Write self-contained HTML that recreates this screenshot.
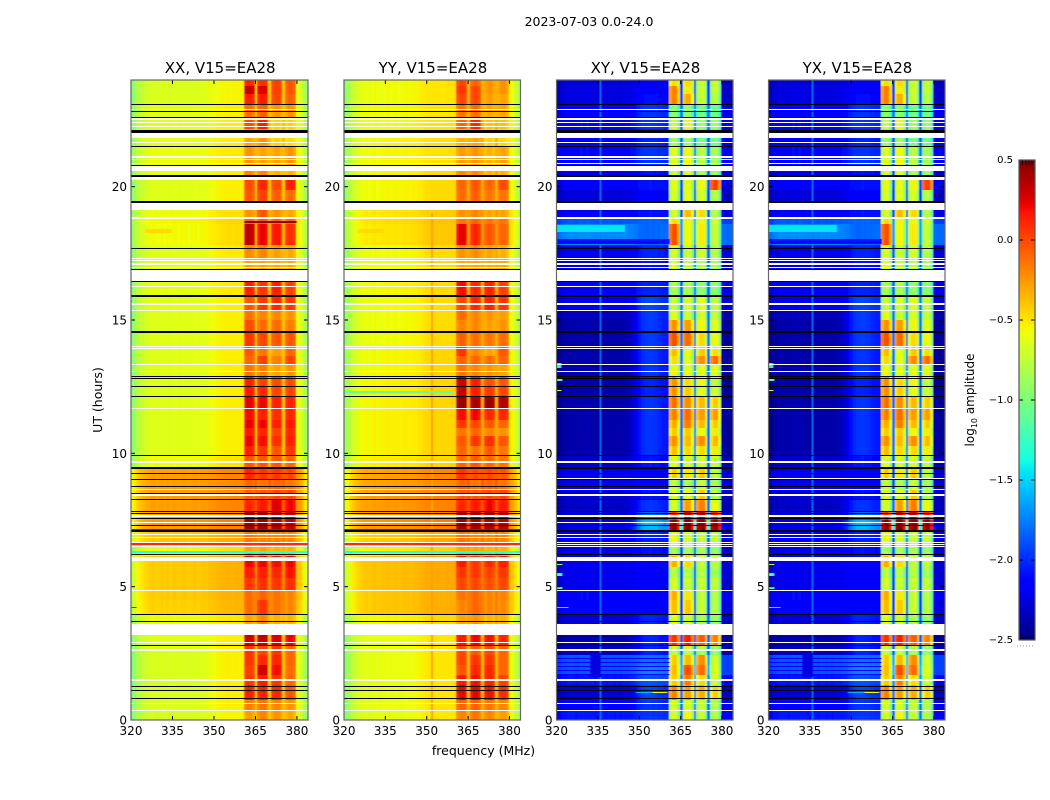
<!DOCTYPE html>
<html lang="en">
<head>
<meta charset="utf-8">
<title>2023-07-03 0.0-24.0</title>
<style>
html,body{margin:0;padding:0;background:#fff}
svg{display:block}
text{font-family:"DejaVu Sans","Liberation Sans",sans-serif;fill:#000}
</style>
</head>
<body>
<svg id="fig" width="1050" height="800" viewBox="0 0 1050 800">
<defs>
<filter id="soft" x="-5%" y="-2%" width="110%" height="104%"><feGaussianBlur stdDeviation="0.55 0.15"/></filter>
</defs>
<text x="589" y="26" text-anchor="middle" font-size="12.5">2023-07-03 0.0-24.0</text>
<text x="483.5" y="755" text-anchor="middle" font-size="12.5">frequency (MHz)</text>
<text transform="translate(102,400) rotate(-90)" text-anchor="middle" font-size="12.5">UT (hours)</text>
<text transform="translate(974,400) rotate(-90)" text-anchor="middle" font-size="12">log<tspan font-size="8" dy="3">10</tspan><tspan dy="-3"> amplitude</tspan></text>
</svg>
<script>
const svgNS = 'http://www.w3.org/2000/svg';

// ---- data ----
const panelTitles = ['XX, V15=EA28', 'YY, V15=EA28', 'XY, V15=EA28', 'YX, V15=EA28'];
const freqTicks = [320, 335, 350, 365, 380];
const utTicks = [0, 5, 10, 15, 20];
const colorTicks = [-2.5, -2.0, -1.5, -1.0, -0.5, 0.0, 0.5];
const colorTickLabels = ['\u22122.5', '\u22122.0', '\u22121.5', '\u22121.0', '\u22120.5', '0.0', '0.5'];

// frequency channels (MHz)
const channels = [320,321,322,323,324,325,326,327,328,329,330,331,332,333,334,335,336,337,338,339,340,341,342,343,344,345,346,347,348,349,350,351,352,353,354,355,356,357,358,359,360,361,362,363,364,365,366,367,368,369,370,371,372,373,374,375,376,377,378,379,380,381,382,383];
const spectralWindows = [[361,364],[366,369],[371,374],[376,379]];
const gapChannels = [365,370,375];

// spectral offsets of the out-of-window background
const xxShape = [-.3,-.22,-.15,-.09,-.05,-.02,0,.02,.03,.01,.02,.04,.02,.03,.01,.03,.04,.02,.03,.04,.03,.02,.03,.04,.02,.03,.04,.03,.05,.04,.04,.05,.05,.06,.06,.07,.07,.07,.08,.08,.08,0,0,0,0,0,0,0,0,0,0,0,0,0,0,0,0,0,0,0,.06,.02,-.08,-.2];
const yyShape = [-.34,-.28,-.2,-.14,-.09,-.05,-.03,-.01,.01,-.01,.01,.03,0,.01,.02,.02,.03,.02,.03,.03,.02,.03,.04,.04,.03,.04,.04,.05,.05,.06,.06,.05,.05,.05,.05,.05,.05,.06,.06,.07,.07,0,0,0,0,0,0,0,0,0,0,0,0,0,0,0,0,0,0,0,.04,0,-.1,-.22];
const xyShape = [-.05,-.05,0,.02,.03,.04,.03,.02,.04,.05,.03,.05,.04,.03,.02,.03,.03,.03,.02,.04,.03,.02,.03,.02,.04,.03,.02,.03,.02,.03,.02,.03,.02,.02,.03,.02,.03,.02,.03,.02,.03,0,0,0,0,0,0,0,0,0,0,0,0,0,0,0,0,0,0,0,-.02,-.05,-.06,-.05];
const yxShape = xyShape;
// share of the "high side" background level in each channel
const bgMix = [0,0,0,0,0,0,0,0,0,0,0,0,0,0,0,0,0,0,0,0,0,0,0,0,0,.05,.1,.2,.35,.55,.75,.9,1,1,1,1,.95,.9,.85,.8,.8,1,1,1,1,1,1,1,1,1,1,1,1,1,1,1,1,1,1,1,.1,.1,.1,.1];
const coBandShape = [-.04,.02,.02,-.04];
const crossBandShape = [0,.14,.14,-.15];
const gapLift = [.22, .22, .22, .22];

// block boundaries, UT hours, top to bottom
const utEdges = [24,23.775,23.475,23.1,22.575,22.16,21.525,20.81,20.33,19.875,19.425,18.825,18.6,17.81,17.325,16.875,15.9,15.375,15,14.55,14.025,13.65,13.35,12.86,12.525,12.15,11.7,11.25,10.95,10.65,10.275,9.94,9.49,9,8.625,8.25,7.8,7.5,7.05,6.56,6.15,5.74,5.325,4.875,4.5,3.975,3.19,2.81,2.44,2.06,1.69,1.31,.75,.375,0];

// per block: log10 amplitude [bg-low, bg-high, window1..window4]
const xxLevels = [
[-.68,-.62,.1,.08,.02,-.05],[-.68,-.62,.3,.25,.02,-.05],[-.68,-.62,.12,.14,0,-.08],[-.66,-.6,-.12,-.08,-.25,-.25],
[-.66,-.6,-.02,.12,-.45,-.45],[-.64,-.6,-.3,-.25,-.45,-.48],[-.62,-.58,-.25,-.3,-.3,-.25],[-.64,-.6,-.2,-.2,-.35,-.35],
[-.66,-.6,-.02,.1,-.02,.12],[-.66,-.6,-.05,.02,-.08,-.12],[-.62,-.55,-.25,-.05,-.25,-.32],[-.58,-.52,-.1,-.05,-.1,-.1],
[-.6,-.54,.32,.2,.14,.08],[-.66,-.58,-.22,-.2,-.28,-.32],[-.66,-.58,-.3,-.3,-.32,-.32],[-.64,-.58,.12,.05,.12,.02],
[-.66,-.6,-.05,.05,.1,.05],[-.66,-.6,-.15,-.2,-.22,-.25],[-.66,-.6,-.02,-.12,-.12,-.18],[-.66,-.6,.05,0,-.05,-.05],
[-.66,-.6,-.05,-.15,-.28,-.1],[-.66,-.6,-.1,.02,-.18,0],[-.66,-.6,-.15,-.18,-.3,-.25],[-.66,-.6,.12,.02,-.02,-.02],
[-.66,-.6,.15,.1,0,.02],[-.66,-.6,.22,.2,.12,.12],[-.66,-.6,.18,.12,.08,.1],[-.66,-.6,.22,.2,.12,.15],
[-.66,-.6,.15,.1,.02,.1],[-.66,-.6,.2,.18,.08,.12],[-.66,-.6,.12,.05,-.05,.05],[-.62,-.56,-.05,-.05,-.05,-.1],
[-.3,-.26,.1,.05,.05,0],[-.3,-.28,-.1,-.15,-.1,-.15],[-.3,-.28,-.08,-.05,0,0],[-.3,-.26,.1,.15,.25,.2],
[-.3,-.26,.38,.4,.35,.3],[-.28,-.24,.42,.42,.38,.32],[-.42,-.38,-.15,-.2,-.2,-.2],[-.6,-.55,-.3,-.3,-.35,-.35],
[-.44,-.4,.2,.2,.18,.2],[-.44,-.4,.12,.12,.1,.16],[-.44,-.4,.05,.08,.05,.08],[-.44,-.4,-.12,-.1,-.15,-.2],
[-.46,-.42,-.12,.05,-.15,-.2],[-.62,-.58,-.3,-.2,-.35,-.35],[-.66,-.6,.28,.32,.25,.2],[-.68,-.6,.05,0,.05,-.1],
[-.68,-.6,.05,.1,.1,-.1],[-.68,-.6,.02,.28,.18,-.12],[-.7,-.6,.05,.15,.05,-.1],[-.68,-.6,.12,.12,.1,-.05],
[-.68,-.6,-.18,-.15,-.2,-.25],[-.7,-.62,-.28,-.2,-.25,-.32]];
const yyLevels = [
[-.6,-.55,0,-.1,-.25,-.25],[-.6,-.55,.05,0,-.25,-.25],[-.6,-.55,0,0,-.28,-.3],[-.6,-.55,-.15,-.12,-.3,-.3],
[-.6,-.55,-.1,.1,-.4,-.4],[-.58,-.54,-.35,-.3,-.45,-.48],[-.58,-.54,-.28,-.25,-.35,-.3],[-.58,-.52,-.22,-.22,-.35,-.35],
[-.58,-.52,-.1,-.05,-.1,-.02],[-.58,-.52,-.12,-.08,-.15,-.15],[-.52,-.48,-.25,-.2,-.3,-.3],[-.5,-.44,-.15,-.1,-.15,-.15],
[-.52,-.46,.22,.1,-.05,-.1],[-.6,-.52,-.25,-.22,-.3,-.35],[-.6,-.52,-.32,-.3,-.32,-.32],[-.58,-.52,.18,.1,.12,.02],
[-.6,-.52,0,.1,.12,.05],[-.6,-.52,-.12,-.2,-.25,-.28],[-.6,-.52,-.2,-.2,-.28,-.25],[-.6,-.52,-.08,-.12,-.15,-.12],
[-.58,-.5,.05,-.2,-.3,-.05],[-.58,-.5,-.08,-.1,-.12,-.1],[-.58,-.5,-.15,-.2,-.25,-.3],[-.56,-.5,.28,.15,-.02,-.05],
[-.56,-.5,.3,.15,.05,0],[-.56,-.5,.42,.38,.42,.36],[-.56,-.5,.18,.2,.1,.1],[-.56,-.5,.05,0,-.05,-.1],
[-.56,-.5,-.15,-.1,-.2,-.25],[-.56,-.5,-.05,.05,.08,-.05],[-.56,-.5,-.1,-.15,-.05,-.15],[-.54,-.5,-.1,-.05,-.1,-.15],
[-.3,-.25,.05,0,0,-.05],[-.3,-.26,-.1,-.15,-.1,-.15],[-.28,-.24,-.05,-.05,0,0],[-.28,-.24,.1,.15,.2,.15],
[-.26,-.22,.36,.38,.36,.3],[-.26,-.22,.4,.4,.38,.34],[-.42,-.36,-.15,-.2,-.2,-.2],[-.55,-.5,-.3,-.3,-.35,-.35],
[-.4,-.36,.15,.05,.1,.12],[-.4,-.36,.05,.05,.02,.05],[-.4,-.36,0,0,-.02,0],[-.42,-.38,-.15,-.1,-.2,-.2],
[-.42,-.38,-.2,-.1,-.2,-.22],[-.58,-.52,-.3,-.25,-.35,-.35],[-.62,-.55,.15,.2,.18,.1],[-.62,-.55,-.02,-.05,0,-.1],
[-.62,-.55,0,.05,.05,-.1],[-.62,-.55,-.05,.1,.1,-.1],[-.62,-.55,.15,.18,.12,.02],[-.62,-.55,.2,.22,.18,.08],
[-.62,-.55,-.1,-.08,-.15,-.2],[-.64,-.56,-.2,-.15,-.2,-.28]];
const xyLevels = [
[-2.3,-2.2,-.6,-.6,-.85,-.85],[-2.28,-2.15,-.3,-.65,-.85,-.85],[-2.28,-2.12,-.3,-.45,-.85,-.9],[-2.2,-2,-1.05,-1.05,-1.15,-1.15],
[-2.15,-2,-.85,-.7,-1,-1],[-2.2,-2.05,-1,-1,-1.15,-1.15],[-2.15,-2,-.75,-.7,-.9,-.95],[-2.25,-2.1,-.8,-.75,-.95,-1],
[-2.2,-2.1,-.75,-.75,-.7,-.1],[-2.3,-2.15,-.8,-.75,-.8,-.9],[-2.2,-2.1,-.8,-.5,-.6,-.9],[-1.9,-1.85,-.6,-.7,-.7,-.8],
[-1.75,-1.85,-.15,-.7,-.65,-.85],[-2.25,-2.05,-.8,-.85,-.8,-.9],[-2.3,-2.1,-.75,-.85,-.9,-.95],[-2.2,-2.05,-.95,-.95,-1.05,-1.05],
[-2.25,-1.95,-.85,-.8,-.75,-.85],[-2.38,-1.98,-.75,-.85,-.8,-.85],[-2.42,-1.98,-.35,-.4,-.7,-.75],[-2.42,-1.98,-.15,-.25,-.6,-.7],
[-2.42,-2,-.5,-.75,-.55,-.6],[-2.42,-2,-.6,-.75,-.35,-.25],[-2.42,-2,-.7,-.75,-.75,-.75],[-2.42,-2.05,-.35,-.6,-.7,-.85],
[-2.42,-2.05,-.35,-.55,-.75,-.8],[-2.42,-2,-.25,-.35,-.5,-.55],[-2.42,-2,-.3,-.25,-.4,-.4],[-2.42,-2,-.45,-.3,-.5,-.55],
[-2.42,-2,-.55,-.55,-.7,-.65],[-2.42,-2,-.35,-.5,-.35,-.5],[-2.42,-2,-.5,-.6,-.6,-.65],[-2.35,-2.1,-.75,-.8,-.8,-.85],
[-2.25,-2.15,-.55,-.65,-.55,-.85],[-2.25,-2.15,-.85,-.95,-.85,-.95],[-2.3,-2.1,-.75,-.75,-.55,-.9],[-2.35,-2,-.8,-.4,-.3,-.7],
[-2.3,-1.85,0,.2,.2,.05],[-2.25,-1.6,.32,.35,.32,.3],[-2.2,-2.05,-.7,-.8,-.85,-.85],[-2.25,-2.1,-.95,-.95,-.95,-1],
[-2.25,-2.15,-.45,-.6,-.85,-.85],[-2.25,-2.15,-.9,-.9,-.9,-.95],[-2.25,-2.15,-.8,-.85,-.85,-.85],[-2.15,-2.15,-.45,-.65,-.85,-.9],
[-2.2,-2.15,-.5,-.55,-.85,-.9],[-2.3,-2.05,-.75,-.8,-.95,-1],[-2.42,-2.05,-.05,0,-.2,-.3],[-2.38,-2.05,-.85,-.85,-.95,-1],
[-1.9,-1.8,-.55,-.5,-.35,-.8],[-1.9,-1.75,-.5,-.15,-.25,-.75],[-2.1,-1.9,-.55,-.3,-.6,-.8],[-2.3,-1.95,-.3,-.4,-.45,-.55],
[-2.2,-2,-.8,-.8,-.85,-.9],[-2.1,-2,-.8,-.7,-.85,-.9]];
const yxLevels = xyLevels;

// narrow features: [ut-low, ut-high, freq-low, freq-high, log10 amplitude]
const xxSpikes = [[6.28,6.32,320,384,-1.3],[6.58,6.62,320,384,.1],[7.12,7.15,320,384,.25],[4.2,4.24,320,322,.2],[18.65,18.7,361,380,.45],[18.25,18.4,325,335,-.47]];
const yySpikes = [[0,19,351.7,352.1,-.28],[6.28,6.32,320,384,-1.3],[6.58,6.62,320,384,.1],[7.12,7.15,320,384,.25],[12.28,12.32,320,360,-1.1],[18.25,18.4,325,335,-.47]];
const xySpikes = [[0,24,335.6,336,-1.75],[4.2,4.24,320,324,-.3],[1.0,1.04,349,358,-1.6],[1.0,1.04,355,360,-.6],[5.4,5.5,320,322,-1.2],[4.9,5.0,320,322,-1.2],[5.8,5.85,320,322,-.8],[13.2,13.4,320,321.5,-1.3],[12.7,12.8,320,322,-1.2],[12.32,12.38,320,321.5,-.6],[17.85,18.05,320,361,-2.1],[18.3,18.55,320,345,-1.45],[2.3,2.33,320,361,-2.15],[2.15,2.18,320,361,-2.15],[2.0,2.03,320,361,-2.15],[1.85,1.88,320,361,-2.15],[1.7,1.73,320,361,-2.15],[1.6,2.5,332,336,-2.25]];
const yxSpikes = xySpikes;

// flagged (blank) and black-marked time ranges, UT hours
const blankRanges = [[22.875,22.93],[22.5,22.56],[22.38,22.425],[22.24,22.29],[21.825,22.03],[21.64,21.69],[21.09,21.15],[21,21.05],[20.85,20.895],[20.6,20.775],[20.26,20.36],[19.125,19.4],[18.79,18.85],[17.29,17.325],[17.2,17.24],[17.08,17.12],[16.96,17],[16.48,16.875],[16.24,16.29],[15.56,15.65],[15.34,15.375],[13.99,14.04],[13.91,13.96],[13.31,13.36],[13.05,13.1],[11.66,11.71],[9.64,9.71],[8.625,8.67],[8.4,8.46],[7.61,7.67],[7.39,7.44],[6.92,6.97],[6.825,6.86],[6.64,6.675],[6.47,6.52],[5.96,6.12],[4.84,4.88],[3.19,3.6],[2.89,2.93],[2.59,2.65],[1.46,1.53],[.59,.63],[.33,.375]];
const crossBlankRanges = [[9.04,9.09],[6.56,6.61]];
const blackRanges = [[23.07,23.11],[22.79,22.83],[22.57,22.6],[22.03,22.14],[21.47,21.525],[20.78,20.81],[20.36,20.42],[19.4,19.46],[17.67,17.71],[16.88,16.92],[16.44,16.48],[15.88,15.94],[14.52,14.585],[12.86,12.9],[12.8,12.83],[12.5,12.53],[12.12,12.16],[9.91,9.94],[9.43,9.49],[9.25,9.28],[9.01,9.04],[8.73,8.76],[8.49,8.52],[8.26,8.29],[7.81,7.84],[7.74,7.76],[7.55,7.58],[7.29,7.32],[7.06,7.12],[6.2,6.22],[3.95,3.98],[3.67,3.7],[2.77,2.8],[1.25,1.28],[1.1,1.13],[.8,.83]];

// ---- axis functions ----
const panelBoxes = [[131,308],[344,520.5],[556.5,733],[768.5,945]];
const plotTop = 80, plotBottom = 720;
const utMax = 24, freqMin = 320, freqMax = 384;
const cbLeft = 1019, cbRight = 1035, cbTop = 160, cbBottom = 640;
const cMin = -2.5, cMax = 0.5;

function xAxis(p, f) { const b = panelBoxes[p]; return b[0] + (f - freqMin) * (b[1] - b[0]) / (freqMax - freqMin); }
function yAxis(h) { return plotBottom - h * (plotBottom - plotTop) / utMax; }
function cAxis(v) { return cbBottom - (v - cMin) * (cbBottom - cbTop) / (cMax - cMin); }

function seg(x, pts) {
  for (let i = 0; i < pts.length - 1; i++) {
    if (x <= pts[i + 1][0]) {
      const t = (x - pts[i][0]) / (pts[i + 1][0] - pts[i][0]);
      return pts[i][1] + t * (pts[i + 1][1] - pts[i][1]);
    }
  }
  return pts[pts.length - 1][1];
}
function jet(v) {
  const n = Math.max(0, Math.min(1, (v - cMin) / (cMax - cMin)));
  const r = seg(n, [[0,0],[.35,0],[.66,1],[.89,1],[1,.5]]);
  const g = seg(n, [[0,0],[.125,0],[.375,1],[.64,1],[.91,0],[1,0]]);
  const b = seg(n, [[0,.5],[.11,1],[.34,1],[.65,0],[1,0]]);
  return 'rgb(' + Math.round(r * 255) + ',' + Math.round(g * 255) + ',' + Math.round(b * 255) + ')';
}
function make(parent, tag, props) {
  const el = document.createElementNS(svgNS, tag);
  for (const k in props) el.setAttribute(k, props[k]);
  parent.appendChild(el);
  return el;
}

const fig = document.getElementById('fig');
const panelLevels = [xxLevels, yyLevels, xyLevels, yxLevels];
const panelShapes = [xxShape, yyShape, xyShape, yxShape];
const panelSpikes = [xxSpikes, yySpikes, xySpikes, yxSpikes];
const panelNames = ['xx', 'yy', 'xy', 'yx'];

function cellValue(p, row, ci) {
  const f = channels[ci];
  const lv = panelLevels[p][row];
  const cross = p >= 2;
  for (let w = 0; w < spectralWindows.length; w++) {
    const sw = spectralWindows[w];
    if (f >= sw[0] && f <= sw[1]) {
      const shape = cross ? crossBandShape : coBandShape;
      return lv[w + 2] + shape[f - sw[0]];
    }
  }
  const bg = lv[0] * (1 - bgMix[ci]) + lv[1] * bgMix[ci] + panelShapes[p][ci];
  if (gapChannels.indexOf(f) >= 0) return bg + gapLift[p];
  return bg;
}

panelTitles.forEach(function (title, p) {
  const box = panelBoxes[p];
  const panel = make(fig, 'g', {});
  
  

  const clip = make(fig, 'clipPath', { id: 'clip' + p });
  make(clip, 'rect', { x: box[0], y: plotTop, width: box[1] - box[0], height: plotBottom - plotTop });

  const clipped = make(panel, 'g', { 'clip-path': 'url(#clip' + p + ')' });
  
  
  const cells = make(clipped, 'g', { filter: 'url(#soft)', 'shape-rendering': 'crispEdges' });

  for (let r = 0; r < utEdges.length - 1; r++) {
    let y1 = Math.round(yAxis(utEdges[r]));
    let y2 = Math.round(yAxis(utEdges[r + 1]));
    if (r === 0) y1 -= 5;
    if (r === utEdges.length - 2) y2 += 5;
    for (let c = 0; c < channels.length; c++) {
      let x1 = Math.round(xAxis(p, channels[c] - 0.3));
      let x2 = Math.round(xAxis(p, channels[c] + 0.7));
      if (c === 0) x1 = Math.round(box[0]) - 5;
      if (c === channels.length - 1) x2 = Math.round(box[1]) + 5;
      const cell = make(cells, 'rect', { x: x1, y: y1, width: x2 - x1, height: y2 - y1, fill: jet(cellValue(p, r, c)) });
      
      
    }
  }

  panelSpikes[p].forEach(function (s) {
    const y1 = Math.round(yAxis(s[1]));
    const y2 = Math.max(y1 + 1, Math.round(yAxis(s[0])));
    const x1 = Math.round(xAxis(p, s[2]));
    const x2 = Math.max(x1 + 1, Math.round(xAxis(p, s[3])));
    const sp = make(cells, 'rect', { x: x1, y: y1, width: x2 - x1, height: y2 - y1, fill: jet(s[4]) });
    
    
  });

  const blanks = p >= 2 ? blankRanges.concat(crossBlankRanges) : blankRanges;
  const flagGroup = make(clipped, 'g', { 'shape-rendering': 'crispEdges' });
  blanks.forEach(function (b) {
    const y1 = Math.round(yAxis(b[1]));
    const y2 = Math.max(y1 + 1, Math.round(yAxis(b[0])));
    const band = make(flagGroup, 'rect', { x: box[0], y: y1, width: box[1] - box[0], height: y2 - y1, fill: '#fff' });
    
    
  });
  blackRanges.forEach(function (b) {
    const y1 = Math.round(yAxis(b[1]));
    const y2 = Math.max(y1 + 1, Math.round(yAxis(b[0])));
    const band = make(flagGroup, 'rect', { x: box[0], y: y1, width: box[1] - box[0], height: y2 - y1, fill: '#000' });
    
    
  });

  freqTicks.forEach(function (f) {
    const x = xAxis(p, f);
    const t1 = make(panel, 'line', { x1: x, x2: x, y1: plotBottom, y2: plotBottom - 4, stroke: '#000', 'stroke-width': 1 });
    
    
    const t2 = make(panel, 'line', { x1: x, x2: x, y1: plotTop, y2: plotTop + 4, stroke: '#000', 'stroke-width': 1 });
    
    
    const lab = make(panel, 'text', { x: x, y: 735, 'text-anchor': 'middle', 'font-size': 12 });
    lab.textContent = String(f);
    
    
  });
  utTicks.forEach(function (h) {
    const y = yAxis(h);
    const t1 = make(panel, 'line', { x1: box[0], x2: box[0] + 4, y1: y, y2: y, stroke: '#000', 'stroke-width': 1 });
    
    
    const t2 = make(panel, 'line', { x1: box[1], x2: box[1] - 4, y1: y, y2: y, stroke: '#000', 'stroke-width': 1 });
    
    
    const lab = make(panel, 'text', { x: box[0] - 4, y: y + 4.5, 'text-anchor': 'end', 'font-size': 12 });
    lab.textContent = String(h);
    
    
  });

  const frame = make(panel, 'rect', { x: box[0], y: plotTop, width: box[1] - box[0], height: plotBottom - plotTop, fill: 'none', stroke: '#666', 'stroke-width': 1.2 });
  
  

  const head = make(panel, 'text', { x: (box[0] + box[1]) / 2 + 0.7, y: 73, 'text-anchor': 'middle', 'font-size': 15 });
  head.textContent = title;
  
  
});

// ---- colorbar ----
const cb = make(fig, 'g', {});


const cbSteps = cbBottom - cbTop;
const cbRamp = make(cb, 'g', { 'shape-rendering': 'crispEdges' });
for (let i = 0; i < cbSteps; i++) {
  const v = cMin + (i + 0.5) * (cMax - cMin) / cbSteps;
  const s = make(cbRamp, 'rect', { x: cbLeft, y: Math.round(cAxis(v) - 0.5), width: cbRight - cbLeft, height: 1, fill: jet(v) });
  
  
}
colorTicks.forEach(function (v, i) {
  const y = cAxis(v);
  const a = make(cb, 'line', { x1: cbLeft, x2: cbLeft + 4, y1: y, y2: y, stroke: '#000', 'stroke-width': 1 });
  
  
  const b = make(cb, 'line', { x1: cbRight, x2: cbRight - 4, y1: y, y2: y, stroke: '#000', 'stroke-width': 1 });
  
  
  const lab = make(cb, 'text', { x: 1013, y: y + 3, 'text-anchor': 'end', 'font-size': 10 });
  lab.textContent = colorTickLabels[i];
  
  
});
[1022.5, 1026, 1029, 1032].forEach(function (x) {
  const t = make(cb, 'line', { x1: x, x2: x, y1: cbTop, y2: cbTop + 5, stroke: '#000', 'stroke-width': .8 });
  
  
  const u = make(cb, 'line', { x1: x, x2: x, y1: cbBottom, y2: cbBottom - 5, stroke: '#000', 'stroke-width': .8 });
  
  
});
const cbFrame = make(cb, 'rect', { x: cbLeft, y: cbTop, width: cbRight - cbLeft, height: cbBottom - cbTop, fill: 'none', stroke: '#555', 'stroke-width': 1.2 });


const cbDots = make(cb, 'line', { x1: 1017, x2: 1035, y1: 646, y2: 646, stroke: '#999', 'stroke-width': 1, 'stroke-dasharray': '1 2' });


</script>
</body>
</html>
